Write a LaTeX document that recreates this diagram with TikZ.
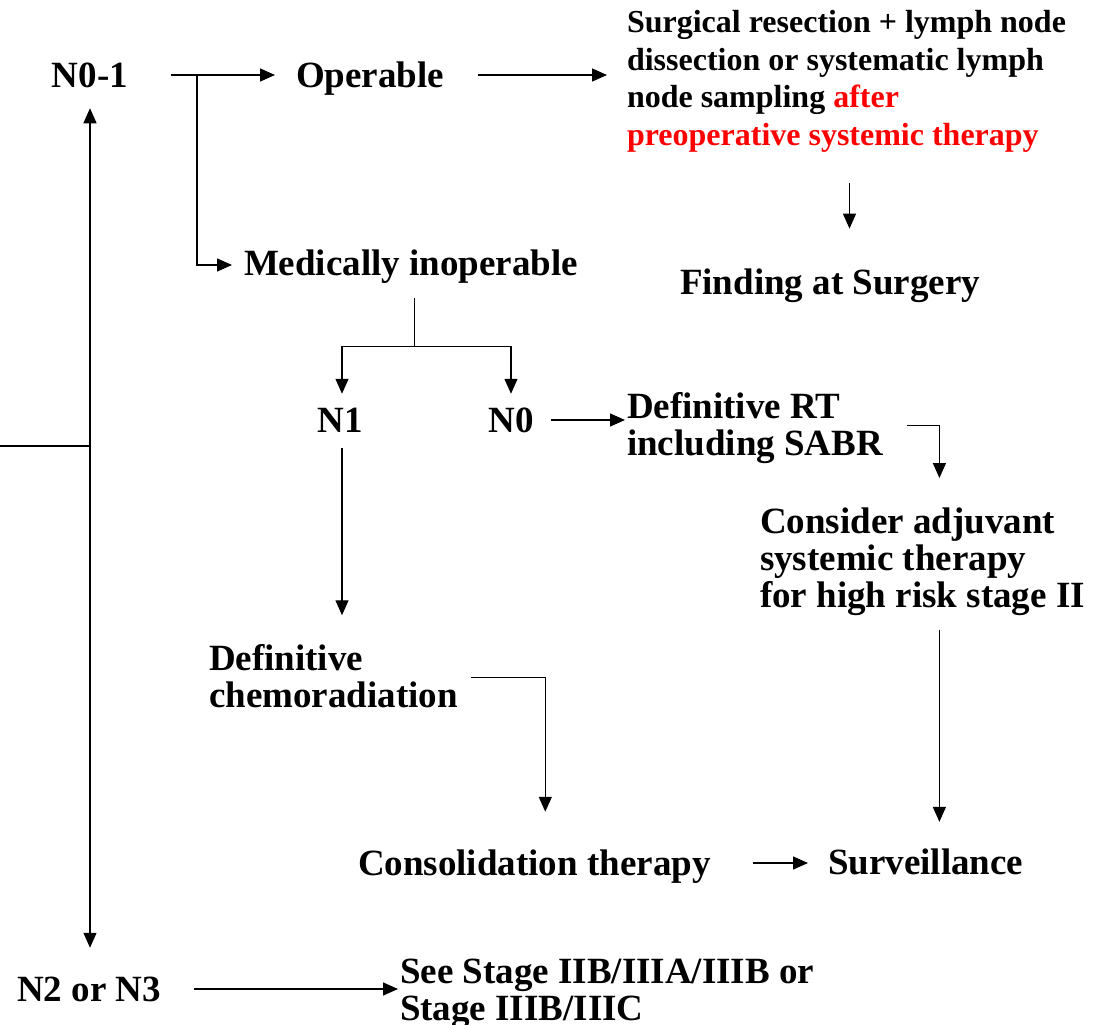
\documentclass[tikz,border=0pt]{standalone}
\usepackage{fontspec}
\setmainfont{Liberation Serif}
\usetikzlibrary{arrows.meta,calc}
\begin{document}
\begin{tikzpicture}[x=1pt,y=-1pt,
  lbl/.style={font=\fontsize{37}{37}\selectfont\bfseries, inner sep=0pt, outer sep=0pt,
              text height=24.5pt, text depth=0pt},
  block/.style={font=\fontsize{37}{37}\selectfont\bfseries, inner sep=0pt, outer sep=0pt,
              align=left},
  small/.style={font=\fontsize{32}{37.5}\selectfont\bfseries, inner sep=0pt, outer sep=0pt,
              align=left},
  ln/.style={line width=1.4pt, black},
  arr/.style={ln, -{Triangle[length=15pt,width=13pt]}}]
\useasboundingbox (0,0) rectangle (1093,1025);

% nodes
\node[lbl] (n01) at (90,75) {N0-1};
\node[lbl, anchor=west] (oper) at (296,75) {Operable};
\node[small, anchor=north west] (surg) at (627,10.5)
  {Surgical resection + lymph node\\
   dissection or systematic lymph\\
   node sampling \textcolor{red}{after}\\
   \textcolor{red}{preoperative systemic therapy}};
\node[lbl, anchor=west] (find) at (680,282) {Finding at Surgery};
\node[lbl, anchor=west] (med) at (244,263) {Medically inoperable};
\node[lbl] (n1) at (340,420) {N1};
\node[lbl] (n0) at (511,420) {N0};
\node[block, anchor=north west] (drt) at (627,392) {Definitive RT\\including SABR};
\node[block, anchor=north west] (cons) at (760,508)
  {Consider adjuvant\\systemic therapy\\for high risk stage II};
\node[block, anchor=north west] (dchem) at (209,644) {Definitive\\chemoradiation};
\node[lbl, anchor=west] (consol) at (358,863) {Consolidation therapy};
\node[lbl, anchor=west] (surv) at (828,862) {Surveillance};
\node[lbl] (n23) at (89,989) {N2 or N3};
\node[block, anchor=north west] (see) at (400,959) {See Stage IIB/IIIA/IIIB or\\Stage IIIB/IIIC};

% connectors
\draw[arr] ([xshift=43]n01.east) -- ([xshift=-21]oper.west);
\coordinate (br) at (197,75);
\draw[arr] (br) |- ([shift={(-12,2)}]med.west);
\draw[arr] ([xshift=34]oper.east) -- ([xshift=-20]oper.east -| surg.west);
\draw[arr] ([shift={(3,30.5)}]surg.south) -- ++(0,46);

\coordinate (mj) at ([shift={(3.5,23)}]med.south);
\draw[ln] (mj) -- ++(0,48) coordinate (mk);
\draw[arr] (mk) -| ([shift={(2,-14)}]n1.north);
\draw[arr] (mk) -| ([shift={(0,-14)}]n0.north);

\draw[arr] ([xshift=17]n0.east) -- ([xshift=-2]n0.east -| drt.west);
\draw[arr] ([shift={(24,-2)}]drt.east) -| ([shift={(17,-30)}]cons.north);
\draw[arr] ([shift={(17,14)}]cons.south) -- ++(0,192);

\draw[arr] ([shift={(2,16)}]n1.south) -- ++(0,167);
\draw[arr] ([shift={(13,2)}]dchem.east) -| ([shift={(11,-39)}]consol.north);
\draw[arr] ([xshift=42]consol.east) -- ([xshift=-20]consol.east -| surv.west);

\coordinate (lj) at (90,446);
\coordinate (le) at (0,446);
\draw[ln] (le) -- (lj);
\draw[arr] (lj) -- ([yshift=-21]n01.south);
\draw[arr] (lj) -- ([shift={(1,-29)}]n23.north);
\draw[arr] ([xshift=33]n23.east) -- ([xshift=-2]n23.east -| see.west);
\end{tikzpicture}
\end{document}
